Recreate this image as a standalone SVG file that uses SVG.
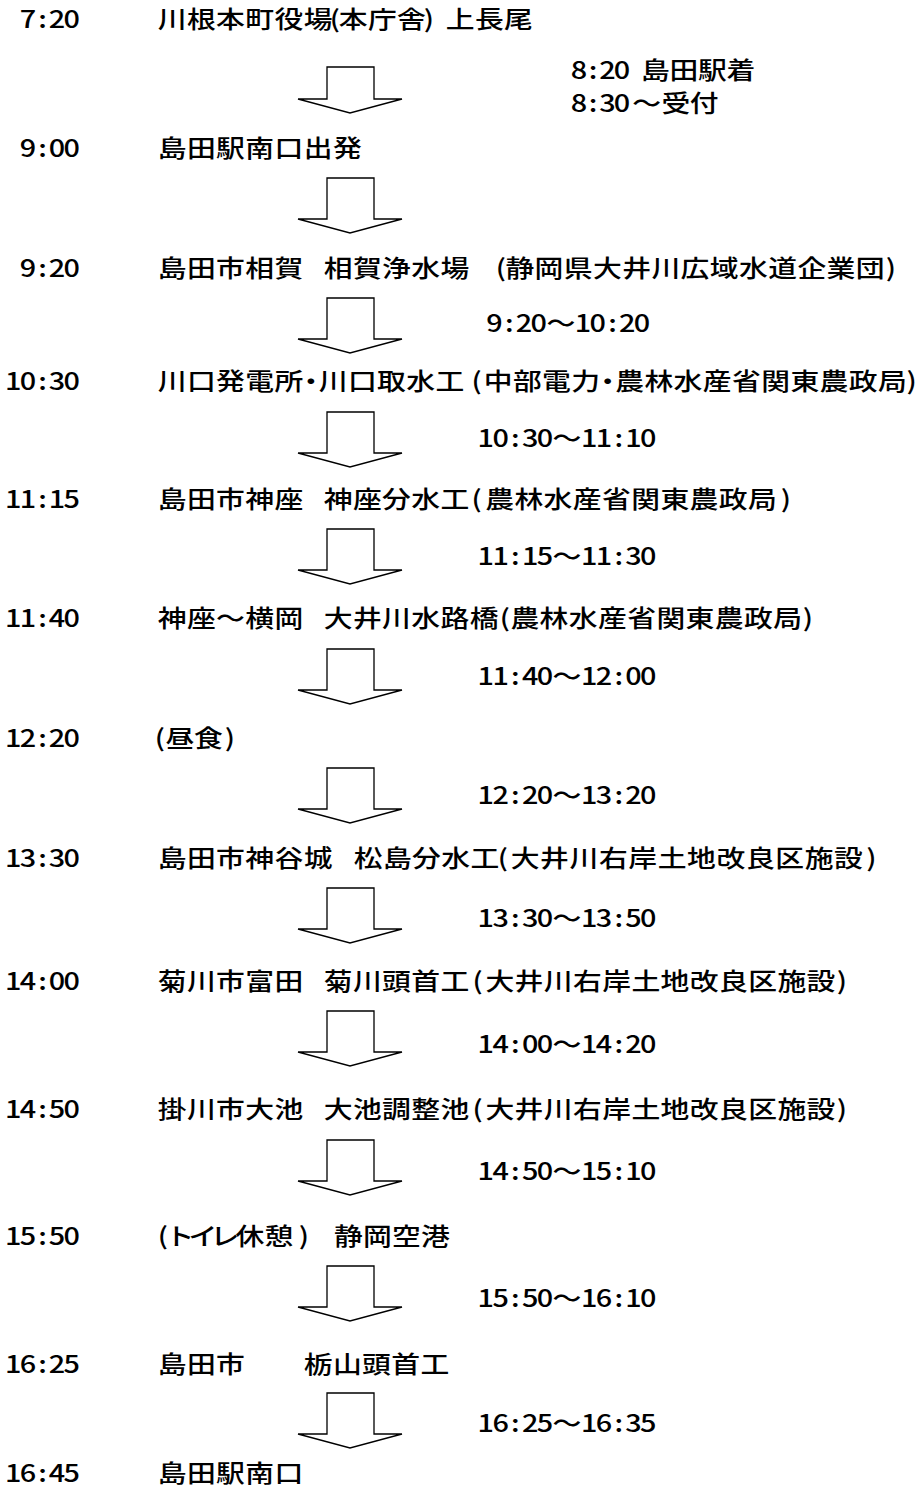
<svg xmlns="http://www.w3.org/2000/svg" xmlns:xlink="http://www.w3.org/1999/xlink" width="921" height="1488" viewBox="0 0 921 1488">
<style>
.t{font-family:"Noto Sans CJK JP","Noto Sans",sans-serif;font-size:24px;font-weight:500;fill:#000;text-anchor:middle;}
.arr{fill:#fff;stroke:#000;stroke-width:1.3;stroke-linejoin:miter;}
</style>
<defs>
<polygon id="arrow" class="arr" points="327,0 374,0 374,41 402,41 350,55 298,41 327,41"/>
</defs>
<rect width="921" height="1488" fill="#fff"/>
<g id="connectors">
<polygon class="arr" points="327,67 374,67 374,99 402,99 350,113 298,99 327,99"/>
<use xlink:href="#arrow" href="#arrow" y="178"/>
<use xlink:href="#arrow" href="#arrow" y="298"/>
<use xlink:href="#arrow" href="#arrow" y="412"/>
<use xlink:href="#arrow" href="#arrow" y="529"/>
<use xlink:href="#arrow" href="#arrow" y="649"/>
<use xlink:href="#arrow" href="#arrow" y="768"/>
<use xlink:href="#arrow" href="#arrow" y="888"/>
<use xlink:href="#arrow" href="#arrow" y="1011"/>
<use xlink:href="#arrow" href="#arrow" y="1140"/>
<use xlink:href="#arrow" href="#arrow" y="1266"/>
<use xlink:href="#arrow" href="#arrow" y="1393"/>
</g>
<g id="connector-labels">
<text class="t" transform="scale(1.2 1)" y="79" x="482.5 494.17 506.25 518.33 530 546.25 570 593.75 617.5">8:20 島田駅着</text>
<text class="t" transform="scale(1.2 1)" y="112" x="482.5 494.17 506.25 518.33 538.92 563.17 586.83">8:30～受付</text>
<text class="t" transform="scale(1.2 1)" y="332" x="412.08 424.42 436.67 449.0 467.42 485.83 498.17 510.42 522.75 535.0">9:20～10:20</text>
<text class="t" transform="scale(1.2 1)" y="447" x="404.83 417.17 429.42 441.75 454.08 472.5 491.0 503.25 515.58 527.92 540.25">10:30～11:10</text>
<text class="t" transform="scale(1.2 1)" y="565" x="404.83 417.17 429.42 441.75 454.08 472.5 491.0 503.25 515.58 527.92 540.25">11:15～11:30</text>
<text class="t" transform="scale(1.2 1)" y="685" x="404.83 417.17 429.42 441.75 454.08 472.5 491.0 503.25 515.58 527.92 540.25">11:40～12:00</text>
<text class="t" transform="scale(1.2 1)" y="804" x="404.83 417.17 429.42 441.75 454.08 472.5 491.0 503.25 515.58 527.92 540.25">12:20～13:20</text>
<text class="t" transform="scale(1.2 1)" y="927" x="404.83 417.17 429.42 441.75 454.08 472.5 491.0 503.25 515.58 527.92 540.25">13:30～13:50</text>
<text class="t" transform="scale(1.2 1)" y="1053" x="404.83 417.17 429.42 441.75 454.08 472.5 491.0 503.25 515.58 527.92 540.25">14:00～14:20</text>
<text class="t" transform="scale(1.2 1)" y="1180" x="404.83 417.17 429.42 441.75 454.08 472.5 491.0 503.25 515.58 527.92 540.25">14:50～15:10</text>
<text class="t" transform="scale(1.2 1)" y="1307" x="404.83 417.17 429.42 441.75 454.08 472.5 491.0 503.25 515.58 527.92 540.25">15:50～16:10</text>
<text class="t" transform="scale(1.2 1)" y="1432" x="404.83 417.17 429.42 441.75 454.08 472.5 491.0 503.25 515.58 527.92 540.25">16:25～16:35</text>
</g>
<g id="node-1">
<text class="t" transform="scale(1.2 1)" y="28" x="23.25 35.42 47.58 59.75">7:20</text>
<text class="t" transform="scale(1.2 1)" y="28" x="143.42 167.75 192.08 216.42 240.75 265.08 279.17 294.25 318.58 342.92 357.5 383.42 407.75 432.08">川根本町役場(本庁舎)上長尾</text>
</g>
<g id="node-2">
<text class="t" transform="scale(1.2 1)" y="157" x="23.25 35.42 47.58 59.75">9:00</text>
<text class="t" transform="scale(1.2 1)" y="157" x="143.42 167.75 192.08 216.42 240.75 265.08 289.42">島田駅南口出発</text>
</g>
<g id="node-3">
<text class="t" transform="scale(1.2 1)" y="277" x="23.25 35.42 47.58 59.75">9:20</text>
<text class="t" transform="scale(1.2 1)" y="277" x="143.42 167.75 192.08 216.42 240.75 260 281.75 306.08 330.42 354.75 379.08 398 417.5 433.17 457.5 481.83 506.17 530.5 554.83 579.17 603.5 627.83 652.17 676.5 700.83 725.17 742.5">島田市相賀 相賀浄水場 (静岡県大井川広域水道企業団)</text>
</g>
<g id="node-4">
<text class="t" transform="scale(1.2 1)" y="390" x="11.08 23.25 35.42 47.58 59.75">10:30</text>
<text class="t" transform="scale(1.2 1)" y="390" x="143.42 167.75 192.08 216.42 240.75 259.0 277.58 301.92 326.25 350.58 374.92 397.25 415.08 439.42 463.75 488.08 506.33 524.67 549.0 573.33 597.67 622.0 646.33 670.67 695.0 719.33 743.67 759.75">川口発電所・川口取水工(中部電力・農林水産省関東農政局)</text>
</g>
<g id="node-5">
<text class="t" transform="scale(1.2 1)" y="508" x="11.08 23.25 35.42 47.58 59.75">11:15</text>
<text class="t" transform="scale(1.2 1)" y="508" x="143.42 167.75 192.08 216.42 240.75 260 281.75 306.08 330.42 354.75 379.08 397.25 416.33 440.67 465.0 489.33 513.67 538.0 562.33 586.67 611.0 635.33 655">島田市神座 神座分水工(農林水産省関東農政局)</text>
</g>
<g id="node-6">
<text class="t" transform="scale(1.2 1)" y="627" x="11.08 23.25 35.42 47.58 59.75">11:40</text>
<text class="t" transform="scale(1.2 1)" y="627" x="143.42 167.75 192.08 216.42 240.75 260 281.75 306.08 330.42 354.75 379.08 403.42 420.83 437.33 461.67 486.0 510.33 534.67 559.0 583.33 607.67 632.0 656.33 673.33">神座～横岡 大井川水路橋(農林水産省関東農政局)</text>
</g>
<g id="node-7">
<text class="t" transform="scale(1.2 1)" y="747" x="11.08 23.25 35.42 47.58 59.75">12:20</text>
<text class="t" transform="scale(1.2 1)" y="747" x="133.33 150.0 173.58 191.67">(昼食)</text>
</g>
<g id="node-8">
<text class="t" transform="scale(1.2 1)" y="867" x="11.08 23.25 35.42 47.58 59.75">13:30</text>
<text class="t" transform="scale(1.2 1)" y="867" x="143.42 167.75 192.08 216.42 240.75 265.08 285 306.75 331.08 355.42 379.75 404.08 419.17 437.58 462.08 486.58 511.08 535.58 560.08 584.58 609.08 633.58 658.08 682.58 707.08 726.25">島田市神谷城 松島分水工(大井川右岸土地改良区施設)</text>
</g>
<g id="node-9">
<text class="t" transform="scale(1.2 1)" y="990" x="11.08 23.25 35.42 47.58 59.75">14:00</text>
<text class="t" transform="scale(1.2 1)" y="990" x="143.42 167.75 192.08 216.42 240.75 260 281.75 306.08 330.42 354.75 379.08 397.92 416.5 440.83 465.17 489.5 513.83 538.17 562.5 586.83 611.17 635.5 659.83 684.17 701.67">菊川市富田 菊川頭首工(大井川右岸土地改良区施設)</text>
</g>
<g id="node-10">
<text class="t" transform="scale(1.2 1)" y="1118" x="11.08 23.25 35.42 47.58 59.75">14:50</text>
<text class="t" transform="scale(1.2 1)" y="1118" x="143.42 167.75 192.08 216.42 240.75 260 281.75 306.08 330.42 354.75 379.08 397.92 416.5 440.83 465.17 489.5 513.83 538.17 562.5 586.83 611.17 635.5 659.83 684.17 701.67">掛川市大池 大池調整池(大井川右岸土地改良区施設)</text>
</g>
<g id="node-11">
<text class="t" transform="scale(1.2 1)" y="1245" x="11.08 23.25 35.42 47.58 59.75">15:50</text>
<text class="t" transform="scale(1.2 1)" y="1245" x="135.83 150 169.17 187.5 208.33 232.5 253.33 268 290.25 314.42 338.58 362.75">(トイレ休憩) 静岡空港</text>
</g>
<g id="node-12">
<text class="t" transform="scale(1.2 1)" y="1373" x="11.08 23.25 35.42 47.58 59.75">16:25</text>
<text class="t" transform="scale(1.2 1)" y="1373" x="143.42 167.75 192.08 225 265.08 289.42 313.75 338.08 362.42">島田市 栃山頭首工</text>
</g>
<g id="node-13">
<text class="t" transform="scale(1.2 1)" y="1482" x="11.08 23.25 35.42 47.58 59.75">16:45</text>
<text class="t" transform="scale(1.2 1)" y="1482" x="143.42 167.75 192.08 216.42 240.75">島田駅南口</text>
</g>
</svg>
